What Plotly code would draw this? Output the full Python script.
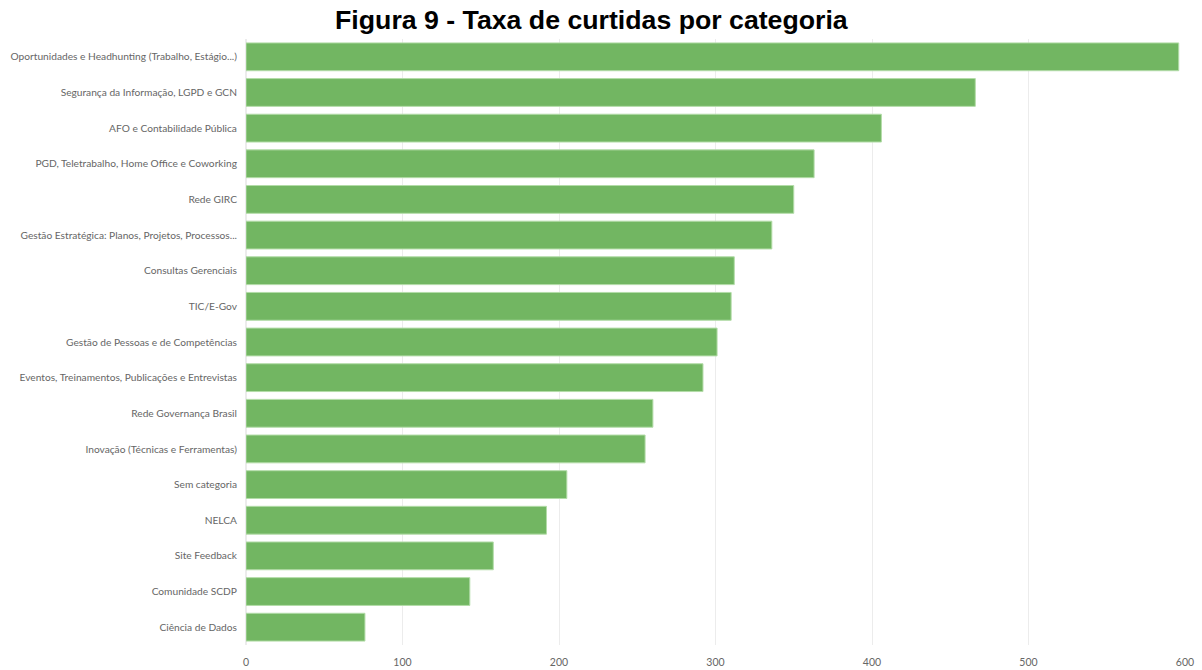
import plotly.graph_objects as go

# Categories (top to bottom) and like counts
categories = [
    "Oportunidades e Headhunting (Trabalho, Estágio...)",
    "Segurança da Informação, LGPD e GCN",
    "AFO e Contabilidade Pública",
    "PGD, Teletrabalho, Home Office e Coworking",
    "Rede GIRC",
    "Gestão Estratégica: Planos, Projetos, Processos...",
    "Consultas Gerenciais",
    "TIC/E-Gov",
    "Gestão de Pessoas e de Competências",
    "Eventos, Treinamentos, Publicações e Entrevistas",
    "Rede Governança Brasil",
    "Inovação (Técnicas e Ferramentas)",
    "Sem categoria",
    "NELCA",
    "Site Feedback",
    "Comunidade SCDP",
    "Ciência de Dados",
]
curtidas = [596, 466, 406, 363, 350, 336, 312, 310, 301, 292, 260, 255, 205, 192, 158, 143, 76]

x_ticks = [0, 100, 200, 300, 400, 500, 600]

fig = go.Figure(
    go.Bar(
        y=categories,
        x=curtidas,
        orientation="h",
        marker=dict(color="#72b662", line=dict(color="#b3dca8", width=1)),
    )
)

fig.update_layout(
    width=1202,
    height=670,
    paper_bgcolor="white",
    plot_bgcolor="white",
    margin=dict(l=246, r=17, t=39, b=25),
    bargap=0.22,
    showlegend=False,
    title=dict(
        text="<b>Figura 9 - Taxa de curtidas por categoria</b>",
        x=0.492,
        xanchor="center",
        y=0.970,
        yanchor="middle",
        font=dict(family="Liberation Sans, Arial", size=26.7, color="black"),
    ),
    font=dict(family="Lato", size=10.2, color="#666666"),
)

fig.update_xaxes(
    range=[0, 600],
    tickvals=x_ticks,
    showgrid=True,
    gridcolor="#ececec",
    gridwidth=1,
    zeroline=True,
    zerolinecolor="#ececec",
    showline=False,
    ticks="outside",
    ticklen=7,
    tickcolor="rgba(0,0,0,0)",
    automargin=False,
    tickfont=dict(family="Lato", size=10.5, color="#666666"),
)

fig.update_yaxes(
    autorange="reversed",
    showgrid=False,
    showline=False,
    ticks="outside",
    ticklen=6,
    tickcolor="rgba(0,0,0,0)",
    automargin=False,
    tickfont=dict(family="Lato", size=10.2, color="#666666"),
)

fig.write_html("out.html")
